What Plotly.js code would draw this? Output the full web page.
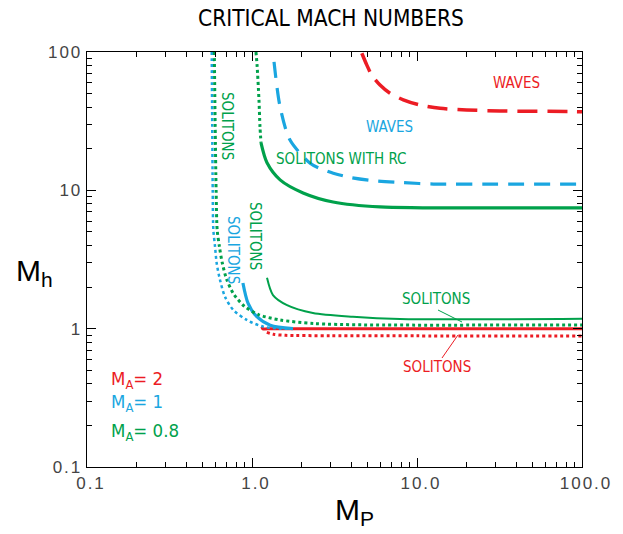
<!DOCTYPE html>
<html>
<head>
<meta charset="utf-8">
<script src="https://cdn.plot.ly/plotly-3.0.1.min.js"></script>
<style>
html,body{margin:0;padding:0;background:#fff;}
#chart{width:623px;height:534px;}
.xtick text,.ytick text{letter-spacing:2px;}
</style>
</head>
<body>
<div id="chart"></div>
<script>
// ---- data ----
// M_A = 2 (red)
const redWavesX = [4.63, 4.96, 5.31, 5.97, 6.86, 8.26, 10.4, 13.8, 20.0, 31.8, 88.5, 100];
const redWavesY = [98, 80.7, 68.3, 57.8, 50.4, 45.1, 41.4, 39.2, 38.1, 37.5, 37.1, 37.0];
const redSolX = [1.15, 1.16, 1.3, 2, 5, 20, 100];
const redSolY = [1.03, 1.0, 1.0, 1.0, 1.0, 1.0, 1.0];
const redDotX = [1.23, 1.35, 1.6, 3, 10, 100];
const redDotY = [0.94, 0.91, 0.895, 0.89, 0.887, 0.885];
// M_A = 1 (blue)
const blueWavesX = [1.36, 1.48, 1.70, 2.25, 2.58, 3.11, 3.93, 5.44, 7.89, 12.6, 30, 100];
const blueWavesY = [84.8, 40.1, 23.1, 15.7, 14.4, 13.3, 12.4, 11.75, 11.4, 11.1, 11.1, 11.1];
const blueDotX = [0.570, 0.574, 0.578, 0.583, 0.597, 0.611, 0.640, 0.686, 0.770, 0.929, 1.17, 1.48, 1.77];
const blueDotY = [100, 30, 10, 5.2, 3.92, 2.97, 2.25, 1.70, 1.365, 1.156, 1.034, 1.0, 1.0];
const blueSolX = [0.881, 0.946, 1.07, 1.29, 1.77];
const blueSolY = [2.14, 1.53, 1.22, 1.06, 1.0];
// M_A = 0.8 (green)
const greenDotX = [0.591, 0.598, 0.606, 0.615, 0.635, 0.660, 0.700, 0.770, 0.900, 1.10, 1.48, 2.35, 4.73, 100];
const greenDotY = [100, 30, 10, 5.2, 3.9, 3.0, 2.3, 1.8, 1.45, 1.26, 1.156, 1.09, 1.065, 1.065];
const greenRcDotX = [1.057, 1.073, 1.102, 1.118, 1.134];
const greenRcDotY = [100, 80.7, 45.1, 28.7, 22.0];
const greenRcX = [1.134, 1.233, 1.48, 2.04, 3.10, 5.97, 31.8, 100];
const greenRcY = [22.0, 15.8, 11.9, 9.58, 8.24, 7.59, 7.46, 7.46];
const greenSolX = [1.233, 1.34, 1.63, 2.34, 4.09, 7.89, 100];
const greenSolY = [2.33, 1.75, 1.48, 1.30, 1.22, 1.175, 1.18];

const xTickVals = [0.1, 1, 10, 100];
const xTickText = ["0.1", "1.0", "10.0", "100.0"];
const yTickVals = [0.1, 1, 10, 100];
const yTickText = ["0.1", "1", "10", "100"];

// ---- styling ----
const RED = "#ec1c24", BLUE = "#1aa6e0", GREEN = "#00a14b";
const NARROW = "Liberation Sans Narrow, DejaVu Sans Condensed, Arial Narrow, sans-serif";
const SANS = "Liberation Sans, Arial, sans-serif";

function tr(x, y, color, width, dash) {
  return {x: x, y: y, type: "scatter", mode: "lines",
          line: {color: color, width: width, dash: dash, shape: "spline", smoothing: 0.8},
          hoverinfo: "skip", showlegend: false};
}
const data = [
  tr(redWavesX, redWavesY, RED, 3.5, "20px,10px"),
  tr(redSolX, redSolY, RED, 3, "solid"),
  tr(redDotX, redDotY, RED, 3, "dot"),
  tr(blueWavesX, blueWavesY, BLUE, 3.2, "16px,10px"),
  tr(blueDotX, blueDotY, BLUE, 2.5, "dot"),
  tr(blueSolX, blueSolY, BLUE, 3.2, "solid"),
  tr(greenDotX, greenDotY, GREEN, 3, "dot"),
  tr(greenRcDotX, greenRcDotY, GREEN, 3, "dot"),
  tr(greenRcX, greenRcY, GREEN, 3.2, "solid"),
  tr(greenSolX, greenSolY, GREEN, 2, "solid")
];

// minor tick positions for the log axes
const minorVals = [];
for (let d = -1; d < 2; d++) for (let k = 2; k <= 9; k++) minorVals.push(k * Math.pow(10, d));

function axis(vals, text, shift) {
  return {type: "log", range: [-1, 2], showline: true, linecolor: "#000", linewidth: 1.3,
          mirror: "ticks", ticks: "inside", ticklen: 9, tickwidth: 1, tickcolor: "#000",
          tickmode: "array", tickvals: vals, ticktext: text, ticklabelshift: shift,
          tickfont: {family: SANS, size: 17, color: "#444"},
          minor: {tickmode: "array", tickvals: minorVals, ticks: "inside", ticklen: 5,
                  tickwidth: 1, tickcolor: "#000", showgrid: false},
          showgrid: false, zeroline: false};
}

const L = 87, R = 582, T = 52, B = 467;
function px(x) { return (x - L) / (R - L); }
function py(y) { return (B - y) / (B - T); }
function lab(text, x, y, color, size, angle) {
  return {text: text, x: px(x), y: py(y), xref: "paper", yref: "paper", showarrow: false,
          xanchor: "center", yanchor: "middle", textangle: angle || 0,
          font: {family: NARROW, size: size || 15, color: color}};
}
function legendLab(text, y, color) {
  return {text: text, x: px(109), y: py(y), xref: "paper", yref: "paper", showarrow: false,
          xanchor: "left", yanchor: "middle", font: {family: NARROW, size: 18.5, color: color}};
}
const annotations = [
  lab("WAVES", 516, 83, RED),
  lab("WAVES", 389, 127, BLUE),
  lab("SOLITONS WITH RC", 341, 159, GREEN),
  lab("SOLITONS", 227, 126, GREEN, 15, 90),
  lab("SOLITONS", 233, 250, BLUE, 15, 90),
  lab("SOLITONS", 255, 236, GREEN, 15, 90),
  lab("SOLITONS", 436, 299, GREEN),
  lab("SOLITONS", 437, 367, RED),
  legendLab("M<sub>A</sub>= 2", 380, RED),
  legendLab("M<sub>A</sub>= 1", 403, BLUE),
  legendLab("M<sub>A</sub>= 0.8", 432, GREEN),
  {text: "M<sub>h</sub>", x: px(14), y: py(272), xref: "paper", yref: "paper", showarrow: false,
   xanchor: "left", yanchor: "middle", font: {family: SANS, size: 30, color: "#000"}},
  {text: "M<sub>P</sub>", x: px(333), y: py(511), xref: "paper", yref: "paper", showarrow: false,
   xanchor: "left", yanchor: "middle", font: {family: SANS, size: 30, color: "#000"}}
];

const shapes = [
  {type: "line", xref: "paper", yref: "paper", x0: px(438), y0: py(310), x1: px(462), y1: py(322),
   line: {color: GREEN, width: 1}},
  {type: "line", xref: "paper", yref: "paper", x0: px(442), y0: py(358), x1: px(458), y1: py(335),
   line: {color: RED, width: 1}}
];

const layout = {
  width: 623, height: 534,
  margin: {l: L, r: 623 - R, t: T, b: 534 - B, pad: 0},
  paper_bgcolor: "#fff", plot_bgcolor: "#fff",
  title: {text: "CRITICAL MACH NUMBERS", x: 331 / 623, xanchor: "center", y: 1 - 18 / 534, yanchor: "middle",
          font: {family: NARROW, size: 22.5, color: "#000"}},
  xaxis: axis(xTickVals, xTickText, 4),
  yaxis: axis(yTickVals, yTickText, 0),
  annotations: annotations,
  shapes: shapes,
  showlegend: false
};

Plotly.newPlot("chart", data, layout, {staticPlot: true, displayModeBar: false});
</script>
</body>
</html>
